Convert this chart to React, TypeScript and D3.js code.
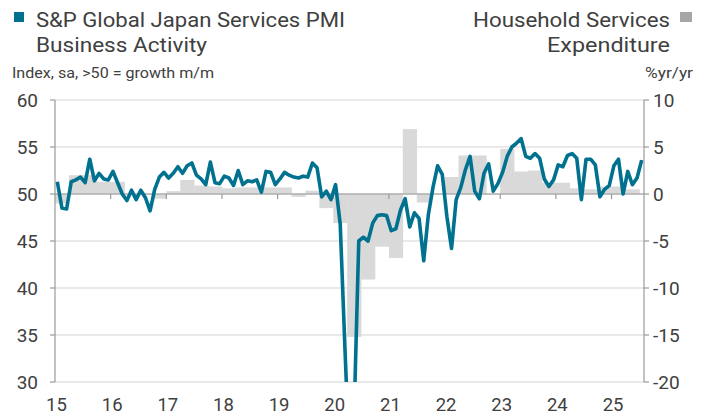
import React from "react";
import * as d3 from "d3";

const yearLabels = ["15", "16", "17", "18", "19", "20", "21", "22", "23", "24", "25"];
const leftTicks = [30, 35, 40, 45, 50, 55, 60];
const rightTicks = [-20, -15, -10, -5, 0, 5, 10];

// Monthly PMI, Jan 2015 .. Jul 2025
const pmi2015 = [51.3, 48.5, 48.4, 51.3, 51.5, 51.8, 51.2, 53.7, 51.4, 52.2, 51.6, 51.5];
const pmi2016 = [52.4, 51.2, 50.0, 49.3, 50.4, 49.4, 50.4, 49.6, 48.2, 50.5, 51.8, 52.3];
const pmi2017 = [51.7, 52.2, 52.9, 52.2, 53.0, 53.3, 52.0, 51.6, 51.0, 53.4, 51.2, 51.1];
const pmi2018 = [51.9, 51.7, 50.9, 52.5, 51.0, 51.4, 51.3, 51.5, 50.2, 52.4, 52.3, 51.0];
const pmi2019 = [51.6, 52.3, 52.0, 51.8, 51.7, 51.9, 51.8, 53.3, 52.8, 49.7, 50.3, 49.4];
const pmi2020 = [51.0, 46.8, 33.8, 21.5, 26.5, 45.0, 45.4, 45.0, 46.9, 47.7, 47.8, 47.7];
const pmi2021 = [46.1, 46.3, 48.3, 49.5, 46.5, 48.0, 47.4, 42.9, 47.8, 50.7, 53.0, 52.1];
const pmi2022 = [47.6, 44.2, 49.4, 50.7, 52.6, 54.0, 50.3, 49.5, 52.2, 53.2, 50.3, 51.1];
const pmi2023 = [52.3, 54.0, 55.0, 55.4, 55.9, 54.0, 53.8, 54.3, 53.8, 51.6, 50.8, 51.5];
const pmi2024 = [53.1, 52.9, 54.1, 54.3, 53.8, 49.4, 53.7, 53.7, 53.1, 49.7, 50.5, 50.9];
const pmi2025 = [53.0, 53.7, 50.0, 52.4, 51.0, 51.7, 53.6];

// Quarterly household services expenditure %yr/yr, Q1 2015 .. Q2 2025
const hhs2015 = [-1.0, 2.0, 2.0, 1.3];
const hhs2016 = [1.3, -0.1, -0.1, -0.5];
const hhs2017 = [0.3, 1.5, 0.9, 0.8];
const hhs2018 = [0.6, 0.7, 0.7, 0.7];
const hhs2019 = [0.7, -0.3, 0.35, -1.5];
const hhs2020 = [-3.1, -15.2, -9.1, -5.6];
const hhs2021 = [-6.8, 6.9, -0.9, 0.0];
const hhs2022 = [1.8, 4.1, 4.1, 0.0];
const hhs2023 = [4.8, 2.4, 2.5, 1.2];
const hhs2024 = [1.2, 0.6, 0.5, 0.8];
const hhs2025 = [0.8, 0.5];

const pmi = [...pmi2015, ...pmi2016, ...pmi2017, ...pmi2018, ...pmi2019, ...pmi2020, ...pmi2021, ...pmi2022, ...pmi2023, ...pmi2024, ...pmi2025];
const hhs = [...hhs2015, ...hhs2016, ...hhs2017, ...hhs2018, ...hhs2019, ...hhs2020, ...hhs2021, ...hhs2022, ...hhs2023, ...hhs2024, ...hhs2025];

const W = 708, H = 416;
const L = 55, R = 644, T = 100, B = 382;
const FONT = "Roboto, 'Noto Sans', sans-serif";
const TEXT = "#404040";
const TEAL = "#00718f";

export default function App() {
  const x = d3.scaleLinear().domain([0, 127]).range([L, R]);
  const yL = d3.scaleLinear().domain([30, 60]).range([B, T]);
  const yR = d3.scaleLinear().domain([-20, 10]).range([B, T]);

  const line = d3.line<number>()
    .x((_, i) => x(i + 0.5))
    .y((d) => yL(d));

  return (
    <svg width={W} height={H} style={{ position: "absolute", left: 0, top: 0, background: "#fff" }} fontFamily={FONT}>
      <defs>
        <clipPath id="plot">
          <rect x={L} y={T} width={R - L} height={B - T} />
        </clipPath>
      </defs>
      {/* gridlines */}
      {leftTicks.map((t) => (
        <line key={"g" + t} x1={L} x2={R} y1={yL(t)} y2={yL(t)} stroke="#d4d4d4" strokeWidth={1.2} />
      ))}
      {/* bars */}
      <g clipPath="url(#plot)">
        {hhs.map((v, i) => {
          const x0 = x(i * 3), x1 = x(i * 3 + 3);
          const y0 = yR(Math.max(0, v)), y1 = yR(Math.min(0, v));
          return <rect key={"b" + i} x={x0} y={y0} width={x1 - x0 + 0.3} height={y1 - y0} fill="#d9d9d9" />;
        })}
      </g>
      {/* zero line */}
      <line x1={L} x2={R} y1={yL(50)} y2={yL(50)} stroke="#9a9a9a" strokeWidth={1.2} />
      {/* x ticks */}
      {yearLabels.map((lab, i) => (
        <g key={"x" + lab}>
          {i > 0 && <line x1={x(i * 12)} x2={x(i * 12)} y1={yL(50)} y2={yL(50) + 5} stroke="#9a9a9a" strokeWidth={1.2} />}
          <text x={x(i * 12) + 1.5} y={411} textAnchor="middle" fontSize={18.5} fill={TEXT}>{lab}</text>
        </g>
      ))}
      {/* axes */}
      <line x1={L} x2={L} y1={T} y2={B} stroke="#9a9a9a" strokeWidth={1.2} />
      <line x1={R} x2={R} y1={T} y2={B} stroke="#9a9a9a" strokeWidth={1.2} />
      {leftTicks.map((t) => (
        <g key={"l" + t}>
          <line x1={L - 5} x2={L} y1={yL(t)} y2={yL(t)} stroke="#9a9a9a" strokeWidth={1.2} />
          <text x={38} y={yL(t)} dy="0.35em" textAnchor="end" fontSize={19} fill={TEXT}>{t}</text>
        </g>
      ))}
      {rightTicks.map((t) => (
        <g key={"r" + t}>
          <line x1={R} x2={R + 5} y1={yR(t)} y2={yR(t)} stroke="#9a9a9a" strokeWidth={1.2} />
          <text x={653} y={yR(t)} dy="0.35em" textAnchor="start" fontSize={19} fill={TEXT}>{t}</text>
        </g>
      ))}
      {/* line */}
      <g clipPath="url(#plot)">
        <path d={line(pmi) || ""} fill="none" stroke={TEAL} strokeWidth={3.6} strokeLinejoin="round" />
      </g>
      {/* titles */}
      <rect x={14} y={12} width={10} height={10} fill={TEAL} />
      <text x={36} y={27} fontSize={20.5} fill={TEXT} textLength={309} lengthAdjust="spacingAndGlyphs">S&amp;P Global Japan Services PMI</text>
      <text x={36} y={52} fontSize={20.5} fill={TEXT} textLength={171} lengthAdjust="spacingAndGlyphs">Business Activity</text>
      <text x={12} y={78} fontSize={15} fill={TEXT} textLength={202} lengthAdjust="spacingAndGlyphs">Index, sa, &gt;50 = growth m/m</text>
      <rect x={680} y={12} width={12} height={10} fill="#a6a6a6" />
      <text x={473} y={27} fontSize={20.5} fill={TEXT} textLength={197} lengthAdjust="spacingAndGlyphs">Household Services</text>
      <text x={547} y={52} fontSize={20.5} fill={TEXT} textLength={123} lengthAdjust="spacingAndGlyphs">Expenditure</text>
      <text x={645} y={78} fontSize={15} fill={TEXT} textLength={48} lengthAdjust="spacingAndGlyphs">%yr/yr</text>
    </svg>
  );
}
